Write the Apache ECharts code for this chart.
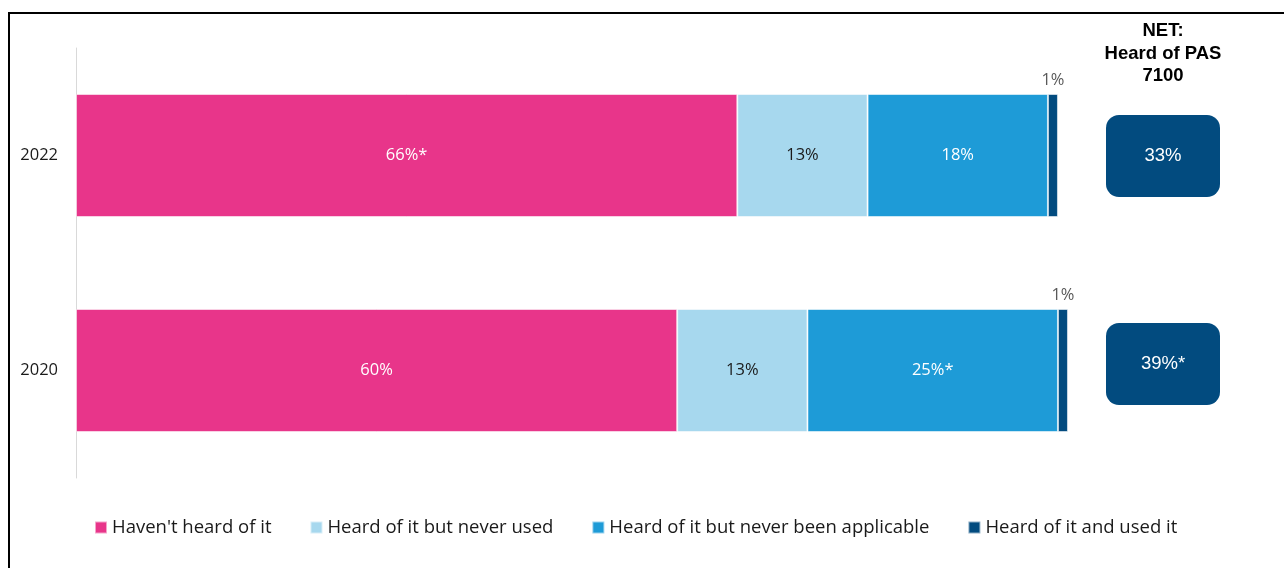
<!DOCTYPE html>
<html>
<head>
<meta charset="utf-8">
<title>Awareness of PAS 7100</title>
<script src="https://cdn.jsdelivr.net/npm/echarts@6/dist/echarts.min.js"></script>
<style>
  html, body { margin: 0; padding: 0; background: #fff; }
  #chart { width: 1284px; height: 568px; }
</style>
</head>
<body>
<div id="chart"></div>
<script>
// Survey years (top to bottom)
const years = ['2022', '2020'];

// Response shares per year, in percent
const seriesNames = [
  "Haven't heard of it",
  'Heard of it but never used',
  'Heard of it but never been applicable',
  'Heard of it and used it'
];
const notHeard = [66, 60];
const heardNeverUsed = [13, 13];
const heardNotApplicable = [18, 25];
const heardAndUsed = [1, 1];

// Printed labels (asterisk marks a significant difference)
const notHeardLabels = ['66%*', '60%'];
const heardNeverUsedLabels = ['13%', '13%'];
const heardNotApplicableLabels = ['18%', '25%*'];
const heardAndUsedLabels = ['1%', '1%'];

// NET: heard of PAS 7100
const netValues = [33, 39];
const netLabels = ['33%', '39%*'];

const colors = ['#E8358A', '#A7D8EE', '#1E9BD7', '#024B7F'];
const FONT = '"Open Sans", "Noto Sans", sans-serif';
const ARIAL = '"Liberation Sans", Arial, sans-serif';

const chart = echarts.init(document.getElementById('chart'), null, { renderer: 'canvas' });

function barSeries(idx, values, labels, labelColor, position) {
  return {
    name: seriesNames[idx],
    type: 'bar',
    stack: 'total',
    barWidth: 123,
    xAxisIndex: 0,
    yAxisIndex: 0,
    itemStyle: { color: colors[idx], borderColor: 'rgba(255,255,255,0.55)', borderWidth: 1 },
    label: {
      show: true,
      position: position,
      color: labelColor,
      fontFamily: FONT,
      fontSize: 16.5,
      formatter: p => labels[p.dataIndex]
    },
    emphasis: { disabled: true },
    data: values
  };
}

const option = {
  animation: false,
  color: colors,
  textStyle: { fontFamily: FONT },
  grid: [
    { left: 76, top: 48, width: 1002, height: 430 },
    { left: 1106, top: 52, width: 114, height: 416 }
  ],
  xAxis: [
    { type: 'value', gridIndex: 0, min: 0, max: 100, show: false },
    { type: 'value', gridIndex: 1, min: 0, max: 1, show: false }
  ],
  yAxis: [
    {
      type: 'category', gridIndex: 0, data: years, inverse: true,
      axisLine: { show: true, lineStyle: { color: '#d9d9d9', width: 1 } },
      axisTick: { show: false },
      axisLabel: { color: '#1a1a1a', fontSize: 16.5, fontFamily: FONT, margin: 18 }
    },
    { type: 'category', gridIndex: 1, data: years, inverse: true, show: false }
  ],
  legend: {
    left: 94,
    top: 518,
    padding: 0,
    itemWidth: 12,
    itemHeight: 12,
    itemGap: 38,
    icon: 'rect',
    data: seriesNames,
    textStyle: { color: '#1a1a1a', fontSize: 18.5, fontFamily: FONT },
    selectedMode: false
  },
  graphic: [
    {
      type: 'rect',
      shape: { x: 9, y: 13, width: 1300, height: 600 },
      style: { fill: 'none', stroke: '#000', lineWidth: 2 },
      silent: true
    },
    {
      type: 'text',
      x: 1163,
      y: 20,
      style: {
        text: 'NET:\nHeard of PAS\n7100',
        fill: '#000',
        font: 'bold 18.5px ' + ARIAL,
        lineHeight: 22.5,
        align: 'center',
        verticalAlign: 'top'
      },
      silent: true
    }
  ],
  series: [
    barSeries(0, notHeard, notHeardLabels, '#ffffff', 'inside'),
    barSeries(1, heardNeverUsed, heardNeverUsedLabels, '#1a1a1a', 'inside'),
    barSeries(2, heardNotApplicable, heardNotApplicableLabels, '#ffffff', 'inside'),
    barSeries(3, heardAndUsed, heardAndUsedLabels, '#595959', 'top'),
    {
      name: 'NET',
      type: 'custom',
      xAxisIndex: 1,
      yAxisIndex: 1,
      silent: true,
      data: netValues.map((v, i) => [0.5, i, v]),
      renderItem: function (params, api) {
        const c = api.coord([0.5, api.value(1)]);
        const w = 114, h = 82;
        return {
          type: 'rect',
          shape: { x: c[0] - w / 2, y: c[1] - h / 2, width: w, height: h, r: 13 },
          style: { fill: '#024B7F' },
          textContent: {
            style: {
              text: netLabels[params.dataIndex],
              fill: '#ffffff',
              font: '18.5px ' + ARIAL
            }
          },
          textConfig: { position: 'inside' }
        };
      }
    }
  ]
};

chart.setOption(option);
</script>
</body>
</html>
